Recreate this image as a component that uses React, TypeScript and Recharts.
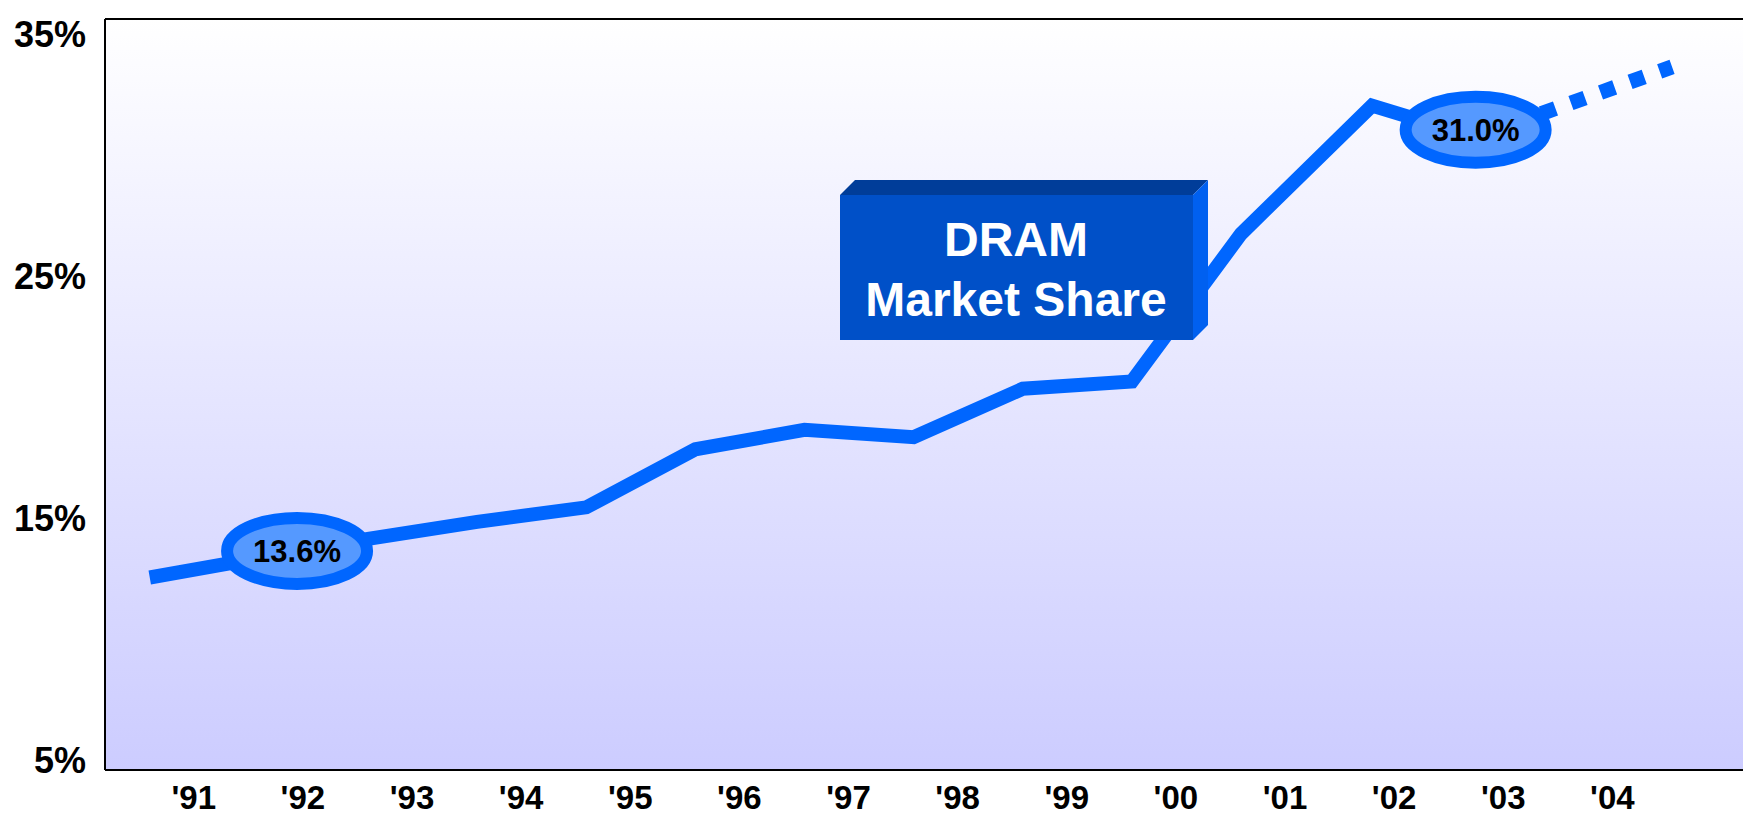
import React from 'react';
import {
  ComposedChart,
  Line,
  Scatter,
  XAxis,
  YAxis,
  ReferenceArea,
  ReferenceLine,
} from 'recharts';

// ---- data ----
const tickYears = [1991, 1992, 1993, 1994, 1995, 1996, 1997, 1998, 1999, 2000, 2001, 2002, 2003, 2004];
const yearLabels = ["'91", "'92", "'93", "'94", "'95", "'96", "'97", "'98", "'99", "'00", "'01", "'02", "'03", "'04"];

const pointX = [1991, 1992, 1993, 1994, 1995, 1996, 1997, 1998, 1999, 2000, 2001, 2002.2, 2003.15, 2004.95];
const actualShare = [12.5, 13.3, 14.1, 14.8, 15.4, 17.8, 18.6, 18.3, 20.3, 20.6, 26.7, 32.0, 30.7, null];
const forecastShare = [null, null, null, null, null, null, null, null, null, null, null, null, 30.7, 33.6];

const calloutX = [1992.35, 2003.15];
const calloutShare = [13.6, 31.0];
const calloutText = ['13.6%', '31.0%'];

const yTicks = [5, 15, 25, 35];
const yTickLabels = ['5%', '15%', '25%', '35%'];

const X_DOMAIN: [number, number] = [1990.59, 2005.6];
const Y_DOMAIN: [number, number] = [4.545, 35.58];

const chartData = pointX.map((x, i) => ({ x, actual: actualShare[i], forecast: forecastShare[i] }));
const calloutData = calloutX.map((x, i) => ({ x, v: calloutShare[i], text: calloutText[i] }));

const FONT = '"Liberation Sans", Arial, Helvetica, sans-serif';
const LINE_BLUE = '#0066FF';

const XTick = (props: any) => {
  const { x, y, payload } = props;
  const idx = tickYears.indexOf(payload.value);
  return (
    <text x={x + 44} y={y + 39} textAnchor="middle" fontFamily={FONT} fontWeight="bold" fontSize={33} fill="#000">
      {yearLabels[idx]}
    </text>
  );
};

const YTick = (props: any) => {
  const { x, y, payload } = props;
  const idx = yTicks.indexOf(payload.value);
  return (
    <text x={x - 19} y={y + 14} textAnchor="end" fontFamily={FONT} fontWeight="bold" fontSize={36} fill="#000">
      {yTickLabels[idx]}
    </text>
  );
};

const Callout = (props: any) => {
  const { cx, cy, payload } = props;
  return (
    <g>
      <ellipse cx={cx} cy={cy} rx={70} ry={33} fill="#5599FF" stroke={LINE_BLUE} strokeWidth={12} />
      <text x={cx} y={cy + 11} textAnchor="middle" fontFamily={FONT} fontWeight="bold" fontSize={31} fill="#000">
        {payload.text}
      </text>
    </g>
  );
};

export default function App() {
  return (
    <div style={{ position: 'absolute', left: 0, top: 0, width: 1743, height: 817, overflow: 'hidden', background: '#fff' }}>
      <svg width={0} height={0} style={{ position: 'absolute' }}>
        <defs>
          <linearGradient id="plotBg" x1="0" y1="0" x2="0" y2="1">
            <stop offset="0%" stopColor="#FFFFFF" />
            <stop offset="100%" stopColor="#CCCCFF" />
          </linearGradient>
        </defs>
      </svg>
      <ComposedChart
        width={1743}
        height={817}
        data={chartData}
        margin={{ top: 19, right: 0, bottom: 0, left: 0 }}
      >
        <ReferenceArea
          x1={X_DOMAIN[0]}
          x2={X_DOMAIN[1]}
          y1={Y_DOMAIN[0]}
          y2={Y_DOMAIN[1]}
          fill="url(#plotBg)"
          fillOpacity={1}
          stroke="none"
        />
        <XAxis
          type="number"
          dataKey="x"
          domain={X_DOMAIN}
          ticks={tickYears}
          interval={0}
          allowDataOverflow
          height={47}
          tickLine={false}
          tickSize={0}
          tickMargin={0}
          axisLine={{ stroke: '#000', strokeWidth: 2 }}
          tick={<XTick />}
        />
        <YAxis
          type="number"
          domain={Y_DOMAIN}
          ticks={yTicks}
          interval={0}
          allowDataOverflow
          width={105}
          tickLine={false}
          tickSize={0}
          tickMargin={0}
          axisLine={{ stroke: '#000', strokeWidth: 2 }}
          tick={<YTick />}
        />
        <ReferenceLine y={Y_DOMAIN[1]} stroke="#000" strokeWidth={2} />
        <Line
          type="linear"
          dataKey="actual"
          stroke={LINE_BLUE}
          strokeWidth={14}
          strokeLinejoin="miter"
          strokeLinecap="butt"
          dot={false}
          activeDot={false}
          isAnimationActive={false}
        />
        <Line
          type="linear"
          dataKey="forecast"
          stroke={LINE_BLUE}
          strokeWidth={15}
          strokeDasharray="15 16.4"
          strokeDashoffset={-7}
          strokeLinecap="butt"
          dot={false}
          activeDot={false}
          isAnimationActive={false}
        />
        <Scatter data={calloutData} dataKey="v" shape={<Callout />} isAnimationActive={false} />
      </ComposedChart>
      <svg width={1743} height={817} style={{ position: 'absolute', left: 0, top: 0, pointerEvents: 'none' }}>
        <polygon points="840,195 855,180 1208,180 1193,195" fill="#003D99" />
        <polygon points="1193,195 1208,180 1208,325 1193,340" fill="#0060F0" />
        <rect x={840} y={195} width={353} height={145} fill="#0050C8" />
        <text x={1016} y={256} textAnchor="middle" fontFamily={FONT} fontWeight="bold" fontSize={48} fill="#fff">
          DRAM
        </text>
        <text x={1016} y={316} textAnchor="middle" fontFamily={FONT} fontWeight="bold" fontSize={48} fill="#fff">
          Market Share
        </text>
      </svg>
    </div>
  );
}
